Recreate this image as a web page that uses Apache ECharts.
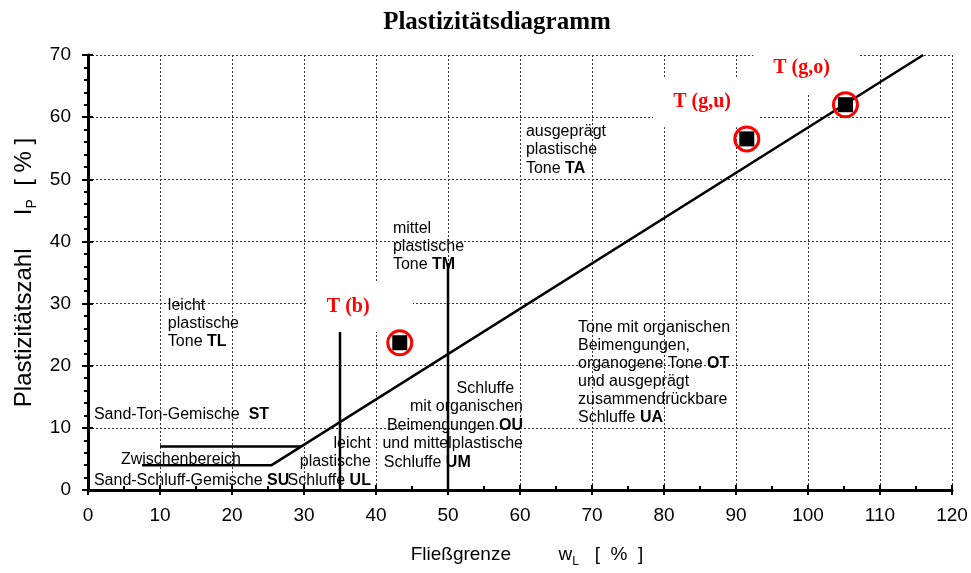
<!DOCTYPE html>
<html>
<head>
<meta charset="utf-8">
<script src="https://cdn.jsdelivr.net/npm/echarts@6/dist/echarts.min.js"></script>
<style>html,body{margin:0;padding:0;background:#fff}#c{width:971px;height:573px}</style>
</head>
<body>
<div id="c"></div>
<script>
// ---- data ----
const aLine = [[7.5, 4], [25.5, 4], [116, 70]];
const upperBound = [[10, 7], [29.6, 7]];
const ulBoundary = [[35, 0], [35, 25.5]];
const umBoundary = [[50, 0], [50, 36.5]];
const samples = [[43.3, 23.7], [91.5, 56.5], [105.2, 62.0]];
const sampleNames = ['T (b)', 'T (g,u)', 'T (g,o)'];
const sampleLabelAt = [[30.4, 29.45], [78.5, 62.4], [92.4, 67.9]];
const xRange = [0, 120, 10];
const yRange = [0, 70, 10];
const notes = [
  { at: [11.1, 31.1], align: 'left', v: 'top', lh: 18, text: 'leicht\nplastische\nTone {b|TL}' },
  { at: [42.36, 43.45], align: 'left', v: 'top', lh: 18, text: 'mittel\nplastische\nTone {b|TM}' },
  { at: [60.83, 59.2], align: 'left', v: 'top', lh: 18.5, text: 'ausgeprägt\nplastische\nTone {b|TA}' },
  { at: [68.06, 27.5], align: 'left', v: 'top', lh: 18, text: 'Tone mit organischen\nBeimengungen,\norganogene Tone {b|OT}\nund ausgeprägt\nzusammendrückbare\nSchluffe {b|UA}' },
  { at: [60.42, 17.86], align: 'right', v: 'top', lh: 18.5, text: 'Schluffe  \nmit organischen\nBeimengungen {b|OU}\nund mittelplastische' },
  { at: [41.1, 5.95], align: 'left', v: 'top', lh: 18.5, text: 'Schluffe {b|UM}' },
  { at: [39.3, 9.0], align: 'right', v: 'top', lh: 18.5, text: 'leicht\nplastische\nSchluffe {b|UL}' },
  { at: [0.83, 12.07], align: 'left', v: 'middle', lh: 18, text: 'Sand-Ton-Gemische  {b|ST}' },
  { at: [4.58, 4.83], align: 'left', v: 'middle', lh: 18, text: 'Zwischenbereich' },
  { at: [0.83, 1.45], align: 'left', v: 'middle', lh: 18, text: 'Sand-Schluff-Gemische {b|SU}' }
];

const chart = echarts.init(document.getElementById('c'));
const sans = 'Liberation Sans, Arial, sans-serif';
const serif = 'Liberation Serif, Times New Roman, serif';
const lineStyle = { color: '#000', width: 2.5 };
function lineSeries(d) {
  return { type: 'line', data: d, showSymbol: false, symbol: 'none', lineStyle: lineStyle, z: 3, silent: true, animation: false };
}
const gridLine = { show: true, lineStyle: { color: '#333', type: [2, 2], width: 1 } };

const xBase = { type: 'value', min: xRange[0], max: xRange[1], interval: xRange[2], gridIndex: 0, position: 'bottom' };
const yBase = { type: 'value', min: yRange[0], max: yRange[1], interval: yRange[2], gridIndex: 0, position: 'left' };

const option = {
  animation: false,
  backgroundColor: '#fff',
  title: {
    text: 'Plastizitätsdiagramm', left: 492, top: 5, textAlign: 'center',
    textStyle: { fontFamily: serif, fontWeight: 'bold', fontSize: 25, color: '#000' }
  },
  grid: { left: 88, right: 19, top: 55, bottom: 83 },
  xAxis: [
    Object.assign({}, xBase, {
      name: 'Fließgrenze         w{sub|L}   [  %  ]', nameLocation: 'middle', nameGap: 52,
      nameTextStyle: { fontFamily: sans, fontSize: 19, color: '#000', lineHeight: 26, padding: [0, 0, 0, 14],
        rich: { sub: { fontFamily: sans, fontSize: 12, verticalAlign: 'bottom', color: '#000' } } },
      axisLine: { show: true, onZero: false, lineStyle: { color: '#000', width: 3 } },
      axisTick: { show: true, inside: false, length: 5, lineStyle: { color: '#000', width: 2 } },
      minorTick: { show: false },
      axisLabel: { fontFamily: sans, fontSize: 19, color: '#000', margin: 16 },
      splitLine: gridLine
    }),
    Object.assign({}, xBase, {
      axisLine: { show: false, onZero: false },
      axisTick: { show: true, inside: true, length: 5, lineStyle: { color: '#000', width: 2 } },
      minorTick: { show: true, splitNumber: 2, length: 4, lineStyle: { color: '#000', width: 2 } },
      axisLabel: { show: false },
      splitLine: { show: false }
    })
  ],
  yAxis: [
    Object.assign({}, yBase, {
      name: 'Plastizitätszahl     I{sub|P}  [ % ]', nameLocation: 'middle', nameGap: 48, nameRotate: 90,
      nameTextStyle: { fontFamily: sans, fontSize: 24, color: '#000', lineHeight: 30,
        rich: { sub: { fontFamily: sans, fontSize: 14, verticalAlign: 'bottom', color: '#000' } } },
      axisLine: { show: true, onZero: false, lineStyle: { color: '#000', width: 3 } },
      axisTick: { show: true, inside: false, length: 6, lineStyle: { color: '#000', width: 2 } },
      minorTick: { show: true, splitNumber: 5, length: 4, lineStyle: { color: '#000', width: 2 } },
      axisLabel: { fontFamily: sans, fontSize: 19, color: '#000', margin: 17 },
      splitLine: gridLine
    }),
    Object.assign({}, yBase, {
      axisLine: { show: false, onZero: false },
      axisTick: { show: true, inside: true, length: 5, lineStyle: { color: '#000', width: 2 } },
      axisLabel: { show: false },
      splitLine: { show: false }
    })
  ],
  series: [
    lineSeries(aLine),
    lineSeries(upperBound),
    lineSeries(ulBoundary),
    lineSeries(umBoundary),
    {
      type: 'scatter', data: notes.map(n => ({
        value: n.at,
        label: {
          show: true, position: [0, 0], align: n.align, verticalAlign: n.v,
          formatter: n.text, fontFamily: sans, fontSize: 16, color: '#000', lineHeight: n.lh,
          rich: { b: { fontFamily: sans, fontSize: 16, fontWeight: 'bold', color: '#000', lineHeight: n.lh } }
        }
      })),
      symbolSize: 0.1, itemStyle: { color: 'rgba(0,0,0,0)', opacity: 1 }, z: 4, silent: true
    },
    {
      type: 'scatter', data: sampleLabelAt.map((p, i) => ({ value: p, name: sampleNames[i] })),
      symbolSize: 0.1, itemStyle: { color: 'rgba(0,0,0,0)', opacity: 1 }, z: 5, silent: true,
      label: {
        show: true, position: [0, 0], align: 'left', verticalAlign: 'middle',
        formatter: '{b}', fontFamily: serif, fontWeight: 'bold', fontSize: 20, color: '#ff0000',
        backgroundColor: '#fff', width: 66, padding: [15, 20, 15, 20]
      }
    },
    {
      type: 'scatter', data: samples, symbol: 'circle', symbolSize: 24, z: 6, silent: true,
      itemStyle: { color: 'rgba(0,0,0,0)', borderColor: '#ff0000', borderWidth: 3, opacity: 1 }
    },
    {
      type: 'scatter', data: samples, symbol: 'rect', symbolSize: 15, z: 7, silent: true,
      itemStyle: { color: '#000', opacity: 1 }
    }
  ]
};
chart.setOption(option);
</script>
</body>
</html>
